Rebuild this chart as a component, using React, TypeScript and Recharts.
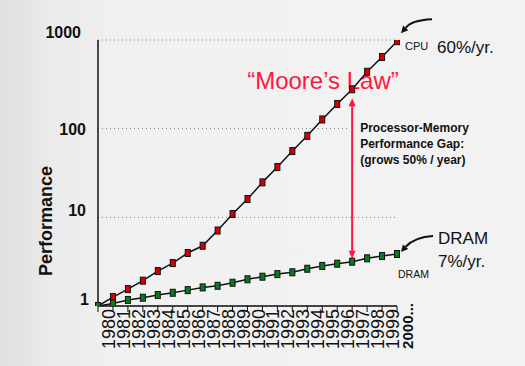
import React from "react";
import {
  CartesianGrid,
  Label,
  Line,
  LineChart,
  ReferenceDot,
  ReferenceLine,
  XAxis,
  YAxis,
} from "recharts";

const years = [
  "1980", "1981", "1982", "1983", "1984", "1985", "1986", "1987", "1988", "1989",
  "1990", "1991", "1992", "1993", "1994", "1995", "1996", "1997", "1998", "1999",
  "2000...",
];

const cpuPerf = [
  1, 1.26, 1.55, 1.93, 2.48, 3.05, 3.96, 4.78, 7.1, 10.9, 16.1, 24.8, 36.9, 55.9, 83, 127,
  190, 278, 438, 643, 970,
];

const dramPerf = [
  1, 1.07, 1.17, 1.24, 1.33, 1.41, 1.51, 1.62, 1.69, 1.83, 2.0, 2.14, 2.29, 2.4, 2.63,
  2.83, 3.0, 3.16, 3.45, 3.66, 3.86,
];

const yTicks = [1, 10, 100, 1000];
const xTicks = years.map((_, i) => i);
const gapIndex = 17;

const FONT = '"Liberation Sans", Arial, sans-serif';
const RED = "#ff1744";
const BG = "#f2f2f2";

const rows = years.map((year, i) => ({ i, year, cpu: cpuPerf[i], dram: dramPerf[i] }));

// small per-label nudges so the y labels sit like the slide
const yLabelNudge: Record<number, [number, number]> = {
  1: [3, -1],
  10: [0, -1],
  100: [0, 6],
  1000: [-5, -2],
};

function YTick({ x, y, payload }: any) {
  const [dx, dy] = yLabelNudge[payload.value] ?? [0, 5];
  return (
    <text x={x + dx} y={y + dy} textAnchor="end" fontFamily={FONT} fontSize={16} fontWeight="bold" fill="#111">
      {payload.value}
    </text>
  );
}

function XTick({ x, y, payload }: any) {
  const last = payload.value === years.length - 1;
  const bx = x + (last ? 16 : 17);
  const by = y - (last ? 9 : 3);
  return (
    <text
      x={bx}
      y={by}
      transform={`rotate(-90 ${bx} ${by})`}
      textAnchor="end"
      fontFamily={FONT}
      fontSize={last ? 15 : 18}
      fontWeight={last ? "bold" : "normal"}
      fill="#111"
    >
      {years[payload.value]}
    </text>
  );
}

const marker = (fill: string) => (props: any) => {
  const { cx, cy, index } = props;
  return (
    <rect key={`m-${index}`} x={cx - 2.5} y={cy - 3.5} width={5} height={7} fill={fill} stroke="#111" strokeWidth={1} />
  );
};

function PerfLabel(props: any) {
  const vb = props.viewBox;
  const cx = vb.x + 8;
  const cy = vb.y + vb.height / 2 + 48;
  return (
    <text
      x={cx}
      y={cy}
      transform={`rotate(-90 ${cx} ${cy})`}
      textAnchor="middle"
      dominantBaseline="central"
      fontFamily={FONT}
      fontSize={18}
      fontWeight="bold"
      fill="#111"
    >
      Performance
    </text>
  );
}

// double-headed red arrow between the two curves, plus the gap note
function GapArrow(props: any) {
  const { x1, y1, x2, y2 } = props;
  const x = (x1 + x2) / 2;
  const top = Math.min(y1, y2) + 9;
  const bottom = Math.max(y1, y2) - 3;
  const cpuY = Math.min(y1, y2);
  return (
    <g>
      {/* the note box is opaque on the slide and hides the 100 gridline */}
      <rect x={x - 5} y={cpuY + 28} width={55} height={52} fill={BG} />
      <line x1={x} y1={top + 7} x2={x} y2={bottom - 7} stroke={RED} strokeWidth={2} />
      <polygon points={`${x},${top} ${x - 3.5},${top + 8} ${x + 3.5},${top + 8}`} fill={RED} />
      <polygon points={`${x},${bottom} ${x - 3.5},${bottom - 8} ${x + 3.5},${bottom - 8}`} fill={RED} />
      <text x={x - 105} y={cpuY} fontFamily={FONT} fontSize={24} fill={RED}>
        “Moore’s Law”
      </text>
      <g fontFamily={FONT} fontSize={12} fontWeight="bold" fill="#111">
        <text x={x + 8} y={cpuY + 43}>Processor-Memory</text>
        <text x={x + 8} y={cpuY + 59}>Performance Gap:</text>
        <text x={x + 8} y={cpuY + 75}>(grows 50% / year)</text>
      </g>
    </g>
  );
}

function CpuNote({ cx, cy }: any) {
  return (
    <g>
      <path d={`M ${cx + 35} ${cy - 22} Q ${cx + 14} ${cy - 21} ${cx + 8.7} ${cy - 13.2}`} fill="none" stroke="#111" strokeWidth={2} />
      <polygon points={`${cx + 4},${cy - 8} ${cx + 11.3},${cy - 10.9} ${cx + 6.1},${cy - 15.6}`} fill="#111" />
      <text x={cx + 8} y={cy + 9} fontFamily={FONT} fontSize={11} fill="#111">CPU</text>
      <text x={cx + 40} y={cy + 12} fontFamily={FONT} fontSize={17} fill="#111">60%/yr.</text>
    </g>
  );
}

function DramNote({ cx, cy }: any) {
  return (
    <g>
      <path d={`M ${cx + 36} ${cy - 18} Q ${cx + 18} ${cy - 17} ${cx + 8.6} ${cy - 7.3}`} fill="none" stroke="#111" strokeWidth={2} />
      <polygon points={`${cx + 4},${cy - 2} ${cx + 11.3},${cy - 5} ${cx + 5.9},${cy - 9.6}`} fill="#111" />
      <text x={cx + 41} y={cy - 10} fontFamily={FONT} fontSize={17} fill="#111">DRAM</text>
      <text x={cx + 41} y={cy + 13} fontFamily={FONT} fontSize={17} fill="#111">7%/yr.</text>
      <text x={cx + 1} y={cy + 24} fontFamily={FONT} fontSize={10.5} fill="#111">DRAM</text>
    </g>
  );
}

export default function App() {
  return (
    <div
      style={{
        position: "absolute",
        left: 0,
        top: 0,
        width: 525,
        height: 366,
        background: `linear-gradient(90deg, #dfdfdf 0%, #ebebeb 10%, #f1f1f1 25%, ${BG} 100%)`,
        fontFamily: FONT,
      }}
    >
      <LineChart width={525} height={366} data={rows} margin={{ top: 40, right: 128, bottom: 10, left: 38 }}>
        <CartesianGrid vertical={false} stroke="#777" strokeDasharray="1 3" />
        <XAxis
          dataKey="i"
          type="number"
          domain={[0, years.length - 1]}
          ticks={xTicks}
          interval={0}
          height={50}
          tickSize={6}
          tickMargin={0}
          axisLine={{ stroke: "#111", strokeWidth: 1.5 }}
          tickLine={{ stroke: "#111", strokeWidth: 1 }}
          tick={<XTick />}
        />
        <YAxis
          type="number"
          scale="log"
          domain={[1, 1000]}
          ticks={yTicks}
          interval={0}
          width={60}
          tickSize={0}
          tickMargin={12}
          tickLine={false}
          axisLine={{ stroke: "#111", strokeWidth: 1.5 }}
          tick={<YTick />}
          allowDataOverflow
        >
          <Label content={<PerfLabel />} />
        </YAxis>
        <ReferenceLine
          segment={[
            { x: gapIndex, y: cpuPerf[gapIndex] },
            { x: gapIndex, y: dramPerf[gapIndex] },
          ]}
          shape={<GapArrow />}
          ifOverflow="visible"
        />
        <Line
          dataKey="cpu"
          type="linear"
          stroke="#111"
          strokeWidth={1.5}
          dot={marker("#d40000")}
          activeDot={false}
          isAnimationActive={false}
        />
        <Line
          dataKey="dram"
          type="linear"
          stroke="#111"
          strokeWidth={1.5}
          dot={marker("#0a7a1e")}
          activeDot={false}
          isAnimationActive={false}
        />
        <ReferenceDot x={years.length - 1} y={cpuPerf[cpuPerf.length - 1]} shape={<CpuNote />} ifOverflow="visible" />
        <ReferenceDot x={years.length - 1} y={dramPerf[dramPerf.length - 1]} shape={<DramNote />} ifOverflow="visible" />
      </LineChart>
    </div>
  );
}
